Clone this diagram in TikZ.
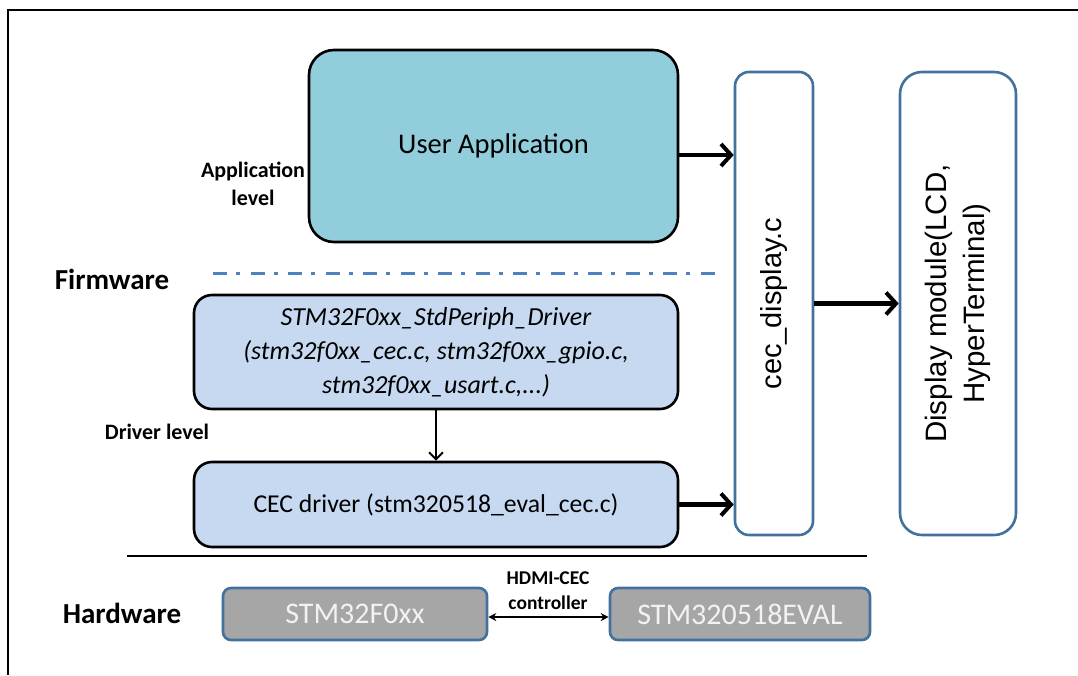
\documentclass[tikz,border=0pt]{standalone}
\usepackage{fontspec}
\setmainfont{Carlito}
\newfontfamily\arialf{Liberation Sans}
\usetikzlibrary{arrows.meta}
\definecolor{uafill}{HTML}{92CDDC}
\definecolor{drvfill}{HTML}{C6D9F1}
\definecolor{hwfill}{HTML}{A6A6A6}
\definecolor{bordblue}{HTML}{41719C}
\definecolor{dashblue}{HTML}{4F81BD}
\definecolor{hwtext}{HTML}{F2F2F2}
\tikzset{
  blackbox/.style={draw=black, line width=2.6pt, rounded corners=#1, inner sep=0pt, align=center},
  bluebox/.style={draw=bordblue, line width=2.6pt, rounded corners=#1, inner sep=0pt, align=center},
  lvl/.style={font=\bfseries\fontsize{22}{28}\selectfont, align=center, inner sep=0pt},
  biglvl/.style={font=\bfseries\fontsize{29}{34}\selectfont, inner sep=0pt},
  bigarrow/.style={line width=4.5pt, -{Straight Barb[length=10pt,width=22pt,line width=4pt]}},
  thinarrow/.style={line width=2pt, -{Straight Barb[length=7pt,width=14pt,line width=2pt]}},
  dblarrow/.style={line width=2pt, {Stealth[length=8pt,width=8pt]}-{Stealth[length=8pt,width=8pt]}},
}
\begin{document}
\begin{tikzpicture}[x=1pt,y=-1pt]
\useasboundingbox (0,0) rectangle (1078,675);
% frame
\coordinate (fbl) at (8,675);
\coordinate (ftl) at (8,10);
\coordinate (ftr) at (1078,10);
\draw[line width=2.5pt] (fbl) -- (ftl) -- (ftr);

% boxes
\node[blackbox=25pt, fill=uafill, minimum width=369pt, minimum height=192pt,
      font=\fontsize{28.5}{34}\selectfont] (ua) at (493.5,146) {User Application};
\node[blackbox=18pt, fill=drvfill, minimum width=484pt, minimum height=114pt,
      font=\itshape\fontsize{26}{34}\selectfont] (sp) at (436,352)
      {STM32F0xx\_StdPeriph\_Driver\\(stm32f0xx\_cec.c, stm32f0xx\_gpio.c,\\stm32f0xx\_usart.c,...)};
\node[blackbox=18pt, fill=drvfill, minimum width=484pt, minimum height=85pt,
      font=\fontsize{25.7}{30}\selectfont] (ce) at (436,504.5) {CEC driver (stm320518\_eval\_cec.c)};
\node[bluebox=14pt, fill=white, minimum width=78pt, minimum height=463pt] (cd) at (774,303.5) {};
\node[rotate=90, font=\arialf\fontsize{29}{35}\selectfont, inner sep=0pt] (cdt) at (cd.center) {cec\_display.c};
\node[bluebox=22pt, fill=white, minimum width=116pt, minimum height=463pt] (dm) at (958,303.5) {};
\node[rotate=90, font=\arialf\fontsize{29.5}{38}\selectfont, inner sep=0pt, align=center] (dmt) at (dm.center)
      {Display module(LCD,\\HyperTerminal)};
\node[bluebox=8pt, fill=hwfill, minimum width=264pt, minimum height=52pt,
      font=\fontsize{30}{34}\selectfont, text=hwtext] (hw1) at (355,614) {STM32F0xx};
\node[bluebox=8pt, fill=hwfill, minimum width=260pt, minimum height=52pt,
      font=\fontsize{30}{34}\selectfont, text=hwtext] (hw2) at (740,614) {STM320518EVAL};

% labels
\node[lvl] (appl) at (253,184) {Application\\level};
\node[biglvl] (fw) at (112,279) {Firmware};
\node[lvl] (drvl) at (157,432) {Driver level};
\node[biglvl] (hwl) at (122,613) {Hardware};
\node[font=\bfseries\fontsize{19.5}{25}\selectfont, align=center, inner sep=0pt] (hdmi) at (548,591) {HDMI-CEC\\controller};

% separators
\coordinate (dl1) at (213,273);
\coordinate (dl2) at (722,273);
\draw[dashblue, line width=3pt, dash pattern=on 14pt off 9pt on 4pt off 10.5pt] (dl1) -- (dl2);
\coordinate (hl1) at (127,556);
\coordinate (hl2) at (867,556);
\draw[black, line width=2.5pt] (hl1) -- (hl2);

% connectors
\draw[bigarrow] ([yshift=-9pt]ua.east) -- ([yshift=-9pt]ua.east -| cd.west);
\draw[bigarrow] (ce.east) -- (ce.east -| cd.west);
\draw[bigarrow] (cd.east) -- (dm.west);
\draw[thinarrow] (sp.south) -- (ce.north);
\draw[dblarrow] ([yshift=-3pt]hw1.east) -- ([yshift=-3pt]hw2.west);
\end{tikzpicture}
\end{document}
